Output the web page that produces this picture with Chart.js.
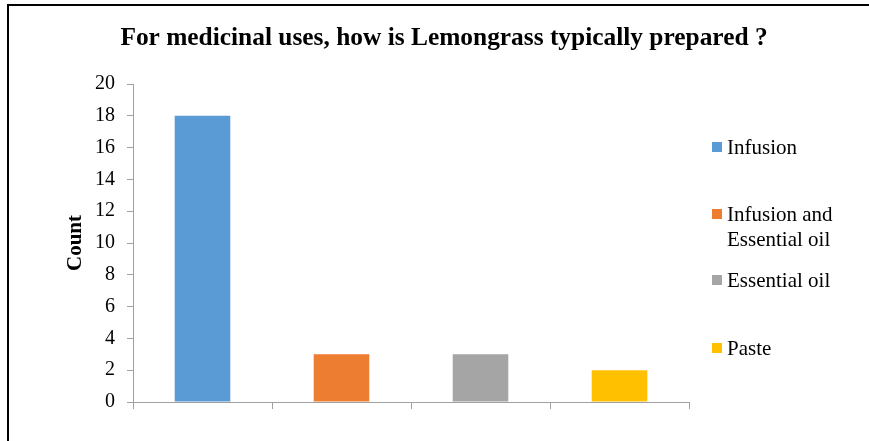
<!DOCTYPE html>
<html>
<head>
<meta charset="utf-8">
<script src="https://cdn.jsdelivr.net/npm/chart.js@4"></script>
<style>
  html, body { margin: 0; padding: 0; background: #fff; }
  #wrap { position: relative; width: 869px; height: 441px; }
</style>
</head>
<body>
<div id="wrap"><canvas id="grafico" width="869" height="441"></canvas></div>
<script>
// Dados do gráfico
const categorias = ['Infusion', 'Infusion and Essential oil', 'Essential oil', 'Paste'];
const legendaLinhas = [['Infusion'], ['Infusion and', 'Essential oil'], ['Essential oil'], ['Paste']];
const contagens = [18, 3, 3, 2];
const cores = ['#5b9bd5', '#ed7d31', '#a5a5a5', '#ffc000'];
const titulo = 'For medicinal uses, how is Lemongrass typically prepared ?';

const serif = '"Liberation Serif", "Times New Roman", serif';

// Moldura, título e legenda desenhados à mão
const extras = {
    id: 'extras',
    beforeDraw(chart) {
        const c = chart.ctx;
        c.save();
        c.fillStyle = '#fff';
        c.fillRect(0, 0, chart.width, chart.height);
        c.strokeStyle = '#000';
        c.lineWidth = 2;
        c.beginPath();
        c.moveTo(8, 441);
        c.lineTo(8, 5);
        c.lineTo(869, 5);
        c.stroke();
        c.restore();
    },
    afterDraw(chart) {
        const c = chart.ctx;
        c.save();
        c.fillStyle = '#000';
        c.textAlign = 'center';
        c.textBaseline = 'alphabetic';
        c.font = 'bold 25.4px ' + serif;
        c.fillText(titulo, 444, 45);

        // legenda à direita
        const baselines = [154, 221, 287, 355];
        c.font = '21px ' + serif;
        c.textAlign = 'left';
        legendaLinhas.forEach((linhas, i) => {
            const y = baselines[i];
            c.fillStyle = cores[i];
            c.fillRect(712, y - 12, 10, 10);
            c.fillStyle = '#000';
            linhas.forEach((txt, j) => c.fillText(txt, 727, y + j * 25));
        });
        c.restore();
    }
};

const ctx = document.getElementById('grafico').getContext('2d');
const grafico = new Chart(ctx, {
    type: 'bar',
    data: {
        labels: categorias,
        datasets: [{
            label: 'Count',
            data: contagens,
            backgroundColor: cores,
            borderWidth: 0,
            categoryPercentage: 1,
            barPercentage: 0.4
        }]
    },
    options: {
        responsive: false,
        animation: false,
        layout: { padding: { left: 63, top: 84, right: 180, bottom: 0 } },
        plugins: {
            legend: { display: false },
            title: { display: false },
            tooltip: { enabled: false }
        },
        scales: {
            x: {
                offset: true,
                grid: { offset: true, drawOnChartArea: false, tickLength: 7, color: '#a0a0a0' },
                border: { color: '#a0a0a0' },
                ticks: { display: false },
                afterFit(s) { s.height = 39; }
            },
            y: {
                min: 0,
                max: 20,
                ticks: { stepSize: 2, padding: 12, color: '#000', font: { family: serif, size: 20 } },
                grid: { drawOnChartArea: false, tickLength: 6, color: '#a0a0a0' },
                border: { color: '#a0a0a0' },
                title: {
                    display: true,
                    text: 'Count',
                    color: '#000',
                    padding: 0,
                    font: { family: serif, size: 21, weight: 'bold' }
                },
                afterFit(s) { s.width = 70; }
            }
        }
    },
    plugins: [extras]
});
</script>
</body>
</html>
